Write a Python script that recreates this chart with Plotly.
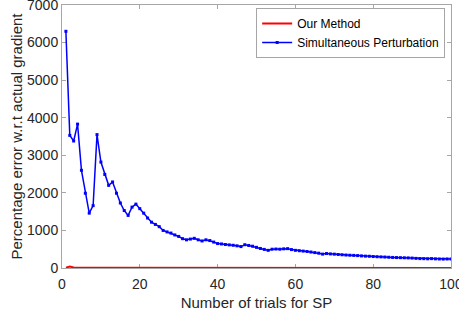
import plotly.graph_objects as go

trials = list(range(1, 101))

sp_error = [6300, 3530, 3380, 3830, 2600, 1990, 1460, 1660, 3550, 2820,
            2490, 2200, 2290, 1990, 1730, 1530, 1400, 1620, 1700, 1580,
            1460, 1330, 1220, 1160, 1100, 1000, 960, 930, 880, 840,
            780, 750, 770, 790, 750, 720, 750, 730, 690, 650,
            640, 625, 615, 605, 590, 570, 620, 600, 580, 550,
            520, 495, 470, 500, 505, 500, 510, 515, 490, 470,
            460, 450, 440, 425, 410, 395, 370, 385, 375, 368,
            360, 352, 345, 340, 336, 330, 322, 316, 312, 305,
            300, 296, 292, 286, 281, 278, 275, 272, 269, 264,
            256, 250, 248, 245, 250, 243, 240, 238, 241, 238]

our_error = [10, 40, 15, 8, 6, 5, 5, 4, 4, 4] + [3] * 90

x_ticks = [0, 20, 40, 60, 80, 100]
y_ticks = [0, 1000, 2000, 3000, 4000, 5000, 6000, 7000]

font_family = "Liberation Sans, Arial, sans-serif"
text_color = "#262626"
axis_color = "#a6a6a6"

fig = go.Figure()
fig.add_trace(go.Scatter(
    x=trials, y=our_error, mode="lines", name="Our Method",
    line=dict(color="#ff0000", width=2), cliponaxis=False,
))
fig.add_trace(go.Scatter(
    x=trials, y=sp_error, mode="lines+markers", name="Simultaneous Perturbation",
    line=dict(color="#0000ff", width=1.5),
    marker=dict(color="#0000ff", size=3, symbol="square"),
))

fig.update_layout(
    width=459, height=311,
    margin=dict(l=62, r=8, t=5, b=43, autoexpand=False),
    paper_bgcolor="white", plot_bgcolor="white",
    font=dict(family=font_family, color=text_color, size=14),
    showlegend=True,
    legend=dict(
        x=0.985, y=0.989, xanchor="right", yanchor="top",
        bgcolor="white", bordercolor=axis_color, borderwidth=1,
        font=dict(size=12, color="black"),
        tracegroupgap=0, itemwidth=30,
    ),
)
fig.update_xaxes(
    range=[0, 100], tickvals=x_ticks, ticktext=[str(v) for v in x_ticks],
    showgrid=False, zeroline=False, automargin=False, layer="below traces",
    showline=True, linecolor=axis_color, linewidth=1, mirror="ticks",
    ticks="inside", ticklen=4, tickcolor=axis_color,
    ticklabeloverflow="allow", ticklabelstandoff=3,
    tickfont=dict(size=14, color=text_color),
    title=dict(text="Number of trials for SP", font=dict(size=15, color=text_color), standoff=7),
)
fig.update_yaxes(
    range=[0, 7000], tickvals=y_ticks, ticktext=[str(v) for v in y_ticks],
    showgrid=False, zeroline=False, automargin=False, layer="below traces",
    showline=True, linecolor=axis_color, linewidth=1, mirror="ticks",
    ticks="inside", ticklen=4, tickcolor=axis_color,
    ticklabeloverflow="allow",
    tickfont=dict(size=14, color=text_color),
    title=dict(text="Percentage error w.r.t actual gradient", font=dict(size=15, color=text_color), standoff=0),
)

fig.write_html("out.html", config={"displayModeBar": False},
               post_script="document.body.style.margin='0';")
